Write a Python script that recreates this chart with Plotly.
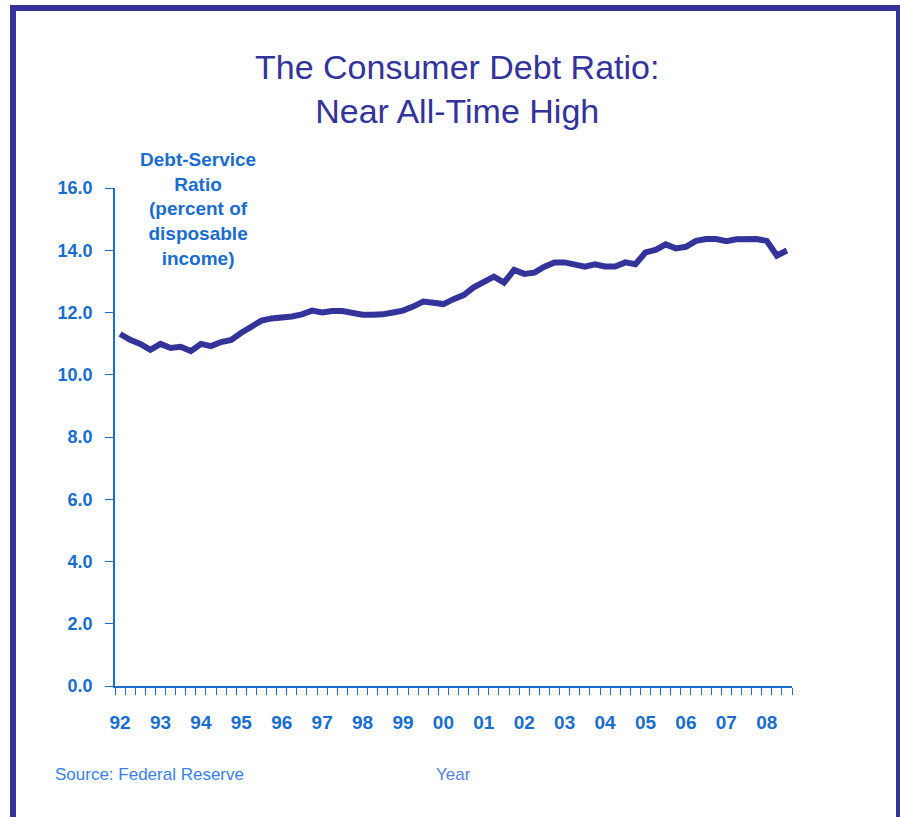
import plotly.graph_objects as go

# Quarterly debt-service ratio, 1992Q1 - 2008Q3
quarters = list(range(67))
ratio = [11.31, 11.12, 10.99, 10.80, 10.99, 10.86, 10.90, 10.76,
         10.99, 10.92, 11.05, 11.12, 11.35, 11.54, 11.74, 11.81,
         11.82, 11.87, 11.94, 12.06, 12.00, 12.05, 12.05, 12.00,
         11.93, 11.93, 11.94, 12.00, 12.06, 12.19, 12.35, 12.31,
         12.27, 12.43, 12.56, 12.81, 12.96, 13.15, 12.96, 13.37,
         13.24, 13.28, 13.47, 13.61, 13.61, 13.55, 13.47, 13.55,
         13.48, 13.48, 13.61, 13.55, 13.93, 14.01, 14.19, 14.06,
         14.11, 14.30, 14.36, 14.36, 14.29, 14.35, 14.36, 14.36,
         14.30, 13.83, 13.99]
year_labels = ["92", "93", "94", "95", "96", "97", "98", "99", "00",
               "01", "02", "03", "04", "05", "06", "07", "08"]
y_ticks = [0, 2, 4, 6, 8, 10, 12, 14, 16]
y_ticktext = ["%.1f" % v for v in y_ticks]

NAVY = "#333399"
BLUE = "#1a6dcc"
SANS = "Liberation Sans, Arial, sans-serif"

W, H = 900, 817
L, R, T, B = 115, 108, 188, 131
pw, ph = W - L - R, H - T - B


def px_x(p):
    return (p - L) / pw


def px_y(p):
    return (H - B - p) / ph


fig = go.Figure()
fig.add_trace(go.Scatter(x=quarters, y=ratio, mode="lines",
                         line=dict(color=NAVY, width=6),
                         hoverinfo="skip", showlegend=False))

fig.update_layout(
    width=W, height=H,
    margin=dict(l=L, r=R, t=T, b=B, pad=0),
    paper_bgcolor="white", plot_bgcolor="white",
    showlegend=False,
    xaxis=dict(
        range=[-0.5, 66.5], showgrid=False, zeroline=False,
        showline=True, linecolor=BLUE, linewidth=1.5,
        tickmode="array",
        tickvals=[i * 4 for i in range(len(year_labels))],
        ticktext=year_labels, ticks="",
        tickfont=dict(family=SANS, size=19, color=BLUE, weight="bold"),
        ticklabelstandoff=18,
        minor=dict(tickmode="array",
                   tickvals=[k - 0.5 for k in range(68)],
                   ticks="outside", ticklen=7, tickwidth=1,
                   tickcolor=BLUE, showgrid=False),
        fixedrange=True,
    ),
    yaxis=dict(
        range=[0, 16], showgrid=False, zeroline=False,
        showline=True, linecolor=BLUE, linewidth=1.5,
        tickmode="array", tickvals=y_ticks, ticktext=y_ticktext,
        ticks="outside", ticklen=8, tickwidth=1, tickcolor=BLUE,
        tickfont=dict(family=SANS, size=18, color=BLUE, weight="bold"),
        ticklabelstandoff=9,
        fixedrange=True,
    ),
)

# Frame around the chart
for x0, x1, y0, y1 in [(10, 16, 5, 840), (10, 905, 5, 11), (896, 905, 5, 840)]:
    fig.add_shape(type="rect", xref="paper", yref="paper",
                  x0=px_x(x0), x1=px_x(x1), y0=px_y(y1), y1=px_y(y0),
                  fillcolor=NAVY, line=dict(width=0), layer="above")

annotations = [
    dict(text="The Consumer Debt Ratio:<br>Near All-Time High",
         x=px_x(457), y=px_y(89), xanchor="center", yanchor="middle",
         font=dict(family=SANS, size=34, color=NAVY)),
    dict(text="<b>Debt-Service<br>Ratio<br>(percent of<br>disposable<br>income)</b>",
         x=px_x(198), y=px_y(209), xanchor="center", yanchor="middle",
         font=dict(family=SANS, size=19, color=BLUE)),
    dict(text="Source: Federal Reserve",
         x=px_x(53), y=px_y(774), xanchor="left", yanchor="middle",
         font=dict(family=SANS, size=17, color="#3a7fe8")),
    dict(text="Year",
         x=px_x(453), y=px_y(774), xanchor="center", yanchor="middle",
         font=dict(family=SANS, size=17, color="#5a7ee0")),
]
for a in annotations:
    fig.add_annotation(xref="paper", yref="paper", showarrow=False, **a)

fig.write_html("out.html",
               config={"displayModeBar": False},
               post_script="document.body.style.margin='0px';"
                           "document.body.style.overflow='hidden';")
